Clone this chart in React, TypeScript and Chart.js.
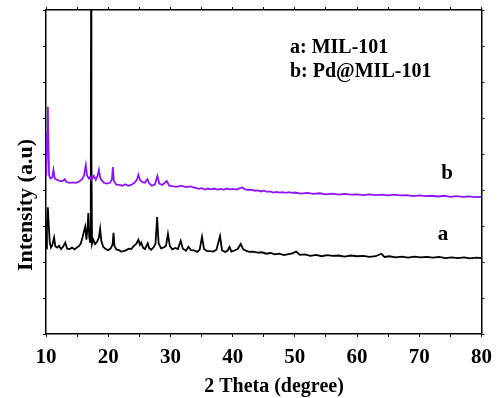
import React, { useEffect, useRef } from 'react';
import { Chart, registerables } from 'chart.js';

Chart.register(...registerables);

// Sample a: MIL-101 (black)
const aTheta = [
  10.0, 10.15, 10.3, 10.45, 10.6, 10.8, 11.0, 11.3, 11.5, 11.8, 12.1, 12.4, 12.7, 13.1, 13.4, 13.8, 14.2, 14.6, 15.0,
  15.3, 15.6, 15.9, 16.1, 16.3, 16.5, 16.7, 16.8, 16.95, 17.1, 17.2, 17.25, 17.3, 17.4, 17.6, 17.9, 18.2, 18.5, 18.7,
  18.9, 19.2, 19.6, 20.0, 20.4, 20.7, 20.85, 21.0, 21.3, 21.7, 22.1, 22.5, 22.9, 23.3, 23.7, 24.1, 24.5, 24.85, 25.1,
  25.3, 25.6, 25.9, 26.35, 26.6, 26.9, 27.3, 27.6, 27.86, 28.1, 28.5, 29.0, 29.3, 29.6, 29.9, 30.3, 30.8, 31.2, 31.65,
  32.0, 32.5, 32.9, 33.3, 33.8, 34.3, 34.7, 35.08, 35.4, 35.9, 36.4, 36.9, 37.4, 37.97, 38.3, 38.8, 39.2, 39.5, 39.8,
  40.3, 40.8, 41.3, 41.7, 42.2, 42.7, 43.3, 44.0, 44.7, 45.4, 46.1, 46.8, 47.5, 48.2, 49.0, 49.6, 50.2, 50.8, 51.6,
  52.5, 53.4, 54.3, 55.2, 56.1, 57.0, 58.0, 59.0, 60.0, 61.0, 62.0, 63.0, 63.9, 64.4, 65.2, 66.2, 67.2, 68.2, 69.2,
  70.2, 71.2, 72.2, 73.2, 74.2, 75.2, 76.2, 77.2, 78.2, 79.2, 80.0,
];
const aIntensity = [
  238, 300, 352, 300, 255, 240, 246, 268, 244, 240, 245, 236, 241, 254, 237, 236, 240, 235, 241,
  244, 252, 270, 285, 298, 262, 300, 336, 270, 255, 500, 1000, 500, 250, 262, 250, 256, 268, 292,
  258, 242, 236, 233, 238, 248, 281, 245, 235, 233, 229, 230, 233, 237, 236, 244, 250, 262, 248,
  254, 240, 236, 252, 238, 234, 241, 250, 325, 252, 238, 241, 246, 278, 245, 235, 239, 236, 259,
  237, 231, 242, 233, 232, 228, 234, 270, 236, 230, 230, 229, 234, 272, 232, 228, 232, 242, 229,
  232, 236, 250, 235, 231, 228, 229, 226, 227, 223, 225, 221, 223, 219, 222, 224, 229, 220, 221,
  217, 220, 216, 219, 217, 218, 215, 218, 216, 217, 214, 216, 223, 214, 216, 213, 215, 212, 215,
  213, 214, 212, 214, 211, 213, 211, 213, 210, 212, 211,
];

// Sample b: Pd@MIL-101 (purple)
const bTheta = [
  10.05, 10.2, 10.3, 10.4, 10.5, 10.7, 11.0, 11.2, 11.4, 11.8, 12.2, 12.6, 13.0, 13.3, 13.8, 14.3, 14.8, 15.3, 15.8,
  16.1, 16.4, 16.6, 16.9, 17.1, 17.3, 17.7, 18.0, 18.3, 18.5, 18.7, 18.9, 19.3, 19.8, 20.3, 20.6, 20.75, 20.9, 21.3,
  21.8, 22.3, 22.75, 23.2, 23.7, 24.2, 24.6, 24.85, 25.1, 25.5, 25.9, 26.3, 26.6, 27.0, 27.5, 27.9, 28.2, 28.7, 29.4,
  29.8, 30.5, 31.0, 31.7, 32.5, 33.2, 34.0, 34.6, 35.0, 35.6, 36.0, 36.6, 37.0, 37.6, 38.0, 38.6, 39.0, 39.6, 40.0,
  40.6, 41.0, 41.5, 42.0, 42.6, 43.0, 43.6, 44.0, 44.6, 45.0, 45.6, 46.0, 46.6, 47.0, 47.6, 48.0, 48.6, 49.0, 49.6,
  50.0, 51.0, 52.0, 53.0, 54.0, 55.0, 56.0, 57.0, 58.0, 59.0, 60.0, 61.0, 62.0, 63.0, 64.0,
  65.0, 66.0, 67.0, 68.0, 69.0, 70.0, 71.0, 72.0, 73.0, 74.0, 75.0, 76.0, 77.0, 78.0, 79.0, 80.0,
];
const bIntensity = [
  440, 560, 631, 520, 440, 432, 435, 456, 432, 428, 425, 424, 430, 422, 420, 421, 420, 423, 430,
  440, 469, 440, 432, 436, 428, 439, 428, 440, 456, 435, 428, 420, 418, 420, 430, 464, 425, 415,
  414, 412, 416, 412, 414, 420, 428, 442, 428, 422, 420, 430, 418, 412, 415, 439, 418, 414, 425,
  412, 410, 409, 412, 408, 410, 406, 403, 405, 401, 404, 402, 404, 401, 403, 401, 404, 402, 403,
  401, 404, 407, 402, 400, 401, 398, 399, 396, 398, 395, 396, 393, 395, 393, 394, 392, 394, 392,
  393, 390, 392, 389, 391, 388, 390, 387, 389, 387, 388, 386, 388, 386, 387,
  385, 387, 385, 386, 383, 385, 383, 384, 382, 384, 381, 383, 381, 382, 380, 381,
];

const xTickLabels = [10, 20, 30, 40, 50, 60, 70, 80];
const legendLines = ['a: MIL-101', 'b: Pd@MIL-101'];
const curveLabels = ['a', 'b'];
const xTitle = '2 Theta (degree)';
const yTitle = 'Intensity (a.u)';

const SERIF = '"Liberation Serif", "Times New Roman", serif';
const PURPLE = 'rgb(140, 20, 255)';

export default function App() {
  const ref = useRef<HTMLCanvasElement | null>(null);

  useEffect(() => {
    if (!ref.current) return;

    const textPlugin = {
      id: 'texts',
      afterDraw(chart: any) {
        const ctx = chart.ctx as CanvasRenderingContext2D;
        ctx.save();
        ctx.fillStyle = '#000';
        ctx.textBaseline = 'alphabetic';
        // x title
        ctx.font = `bold 20px ${SERIF}`;
        ctx.textAlign = 'center';
        ctx.fillText(xTitle, 274, 392);
        // legend text
        ctx.font = `bold 20px ${SERIF}`;
        ctx.textAlign = 'left';
        ctx.fillText(legendLines[0], 290, 53);
        ctx.fillText(legendLines[1], 290, 77);
        // curve labels
        ctx.font = `bold 21px ${SERIF}`;
        ctx.textAlign = 'center';
        ctx.fillText(curveLabels[0], 443, 240);
        ctx.fillText(curveLabels[1], 447, 179);
        // y title
        ctx.translate(31.5, 205);
        ctx.rotate(-Math.PI / 2);
        ctx.font = `bold 22px ${SERIF}`;
        ctx.textAlign = 'center';
        ctx.fillText(yTitle, 0, 0);
        ctx.restore();
      },
    };

    const axisGrid = {
      drawOnChartArea: false,
      drawTicks: true,
      tickLength: 3,
      color: '#000',
      lineWidth: 1,
    };
    const axisBorder = { display: true, color: '#000', width: 1.5 };

    const chart = new Chart(ref.current, {
      type: 'line',
      data: {
        datasets: [
          {
            label: 'b',
            data: bTheta.map((x, i) => ({ x, y: bIntensity[i] })),
            borderColor: PURPLE,
            borderWidth: 1.8,
            pointRadius: 0,
            tension: 0,
            fill: false,
          },
          {
            label: 'a',
            data: aTheta.map((x, i) => ({ x, y: aIntensity[i] })),
            borderColor: '#000',
            borderWidth: 1.8,
            pointRadius: 0,
            tension: 0,
            fill: false,
          },
        ],
      },
      options: {
        animation: false,
        responsive: false,
        devicePixelRatio: 1,
        layout: { padding: 0 },
        plugins: { legend: { display: false }, tooltip: { enabled: false }, title: { display: false } },
        scales: {
          x: {
            type: 'linear',
            position: 'bottom',
            min: 10,
            max: 80,
            grid: axisGrid,
            border: axisBorder,
            ticks: {
              stepSize: 5,
              autoSkip: false,
              maxRotation: 0,
              padding: 8,
              color: '#000',
              font: { family: SERIF, size: 21, weight: 'bold' },
              callback: (v: any) => (xTickLabels.includes(Number(v)) ? String(v) : ''),
            },
            afterFit: (s: any) => {
              s.height = 64;
            },
          },
          x2: {
            type: 'linear',
            position: 'top',
            min: 10,
            max: 80,
            grid: axisGrid,
            border: axisBorder,
            ticks: { stepSize: 5, display: false },
            afterFit: (s: any) => {
              s.height = 10;
            },
          },
          y: {
            type: 'linear',
            position: 'left',
            min: 0,
            max: 900,
            grid: axisGrid,
            border: axisBorder,
            ticks: { stepSize: 100, display: false },
            afterFit: (s: any) => {
              s.width = 46;
            },
          },
          y2: {
            type: 'linear',
            position: 'right',
            min: 0,
            max: 900,
            grid: axisGrid,
            border: axisBorder,
            ticks: { stepSize: 100, display: false },
            afterFit: (s: any) => {
              s.width = 11;
            },
          },
        },
      } as any,
      plugins: [textPlugin],
    });

    return () => chart.destroy();
  }, []);

  return (
    <div style={{ position: 'absolute', left: 0, top: 0, width: 500, height: 398, background: '#fff' }}>
      <canvas ref={ref} width={500} height={398} style={{ width: 500, height: 398, display: 'block' }} />
    </div>
  );
}
